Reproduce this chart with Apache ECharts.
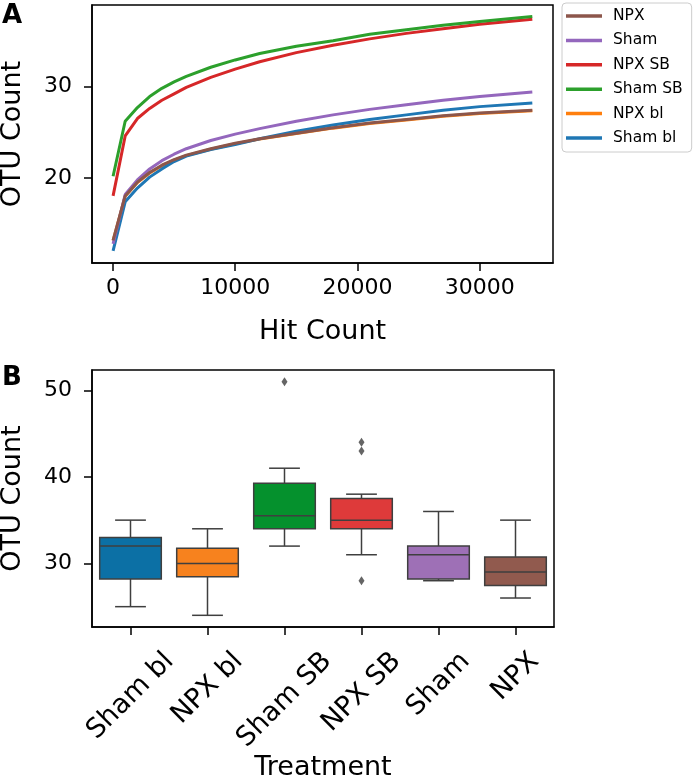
<!DOCTYPE html>
<html>
<head>
<meta charset="utf-8">
<script src="https://cdn.jsdelivr.net/npm/echarts@6/dist/echarts.min.js"></script>
<style>
html,body{margin:0;padding:0;background:#fff;}
#chart{width:693px;height:780px;}
</style>
</head>
<body>
<div id="chart"></div>
<script>
// ---------- Panel A data (rarefaction curves) ----------
const hitCount = [10, 1000, 2000, 3000, 4000, 5000, 6000, 8000, 10000, 12000, 15000, 18000, 21000, 24000, 27000, 30000, 34300];
const otuNPX    = [13.2, 18.05, 19.55, 20.6, 21.4, 22.0, 22.5, 23.2, 23.8, 24.3, 24.9, 25.5, 26.0, 26.4, 26.8, 27.1, 27.4];
const otuSham   = [12.8, 18.2, 19.8, 21.0, 21.9, 22.6, 23.2, 24.1, 24.8, 25.4, 26.2, 26.9, 27.5, 28.0, 28.5, 28.9, 29.4];
const otuNPXSB  = [18.05, 24.6, 26.5, 27.6, 28.5, 29.2, 29.9, 31.0, 31.9, 32.7, 33.7, 34.5, 35.2, 35.8, 36.3, 36.8, 37.35];
const otuShamSB = [20.2, 26.2, 27.7, 28.9, 29.8, 30.5, 31.1, 32.1, 32.9, 33.6, 34.4, 35.0, 35.7, 36.2, 36.7, 37.1, 37.65];
const otuNPXbl  = [13.15, 18.0, 19.5, 20.55, 21.35, 21.95, 22.45, 23.15, 23.75, 24.25, 24.85, 25.45, 25.95, 26.35, 26.75, 27.05, 27.35];
const otuShambl = [12.05, 17.4, 18.9, 20.1, 21.0, 21.8, 22.4, 23.1, 23.65, 24.3, 25.1, 25.8, 26.4, 26.9, 27.4, 27.8, 28.2];
const legendOrder = ['NPX', 'Sham', 'NPX SB', 'Sham SB', 'NPX bl', 'Sham bl'];
const xTicksA = [0, 10000, 20000, 30000];
const yTicksA = [20, 30];

// ---------- Panel B data (box plots) ----------
const categories = ['Sham bl', 'NPX bl', 'Sham SB', 'NPX SB', 'Sham', 'NPX'];
const boxMin = [25, 24, 32, 31, 28, 26];
const boxQ1  = [28.2, 28.45, 34, 34, 28.2, 27.45];
const boxMed = [32, 30, 35.5, 35, 31, 29];
const boxQ3  = [33, 31.75, 39.25, 37.5, 32, 30.75];
const boxMax = [35, 34, 41, 38, 36, 35];
const outlierCat = ['Sham SB', 'NPX SB', 'NPX SB', 'NPX SB'];
const outlierVal = [51, 44, 43, 28];
const yTicksB = [30, 40, 50];

// ---------- styles ----------
const lineColors = {'NPX':'#8c564b','Sham':'#9467bd','NPX SB':'#d62728','Sham SB':'#2ca02c','NPX bl':'#ff7f0e','Sham bl':'#1f77b4'};
const boxColors = ['#0c70a5', '#f7821e', '#05912d', '#de3a3a', '#9e70b6', '#915a4e'];
const edge = '#3f3f3f';
const FONT = '"DejaVu Sans", sans-serif';
const CAT_FS = 27;

// measure category label widths to emulate matplotlib's centered rotated tick labels
const cnv = document.createElement('canvas').getContext('2d');
cnv.font = CAT_FS + 'px "DejaVu Sans"';
const widths = categories.map(c => cnv.measureText(c).width);
const wmin = Math.min.apply(null, widths);
const catData = categories.map((c, i) => {
  const e = widths[i] - wmin;
  return {value: c, textStyle: {align: 'center', verticalAlign: 'top', lineHeight: CAT_FS,
          padding: [e / 4, CAT_FS + e / 2, 0, 0],
          fontSize: CAT_FS, color: '#000', fontFamily: FONT}};
});

const seriesA = [
  ['NPX bl', otuNPXbl], ['Sham bl', otuShambl], ['Sham', otuSham],
  ['NPX', otuNPX], ['NPX SB', otuNPXSB], ['Sham SB', otuShamSB]
].map(([name, vals]) => ({
  name: name, type: 'line', xAxisIndex: 0, yAxisIndex: 0,
  data: hitCount.map((x, i) => [x, vals[i]]),
  showSymbol: false, symbol: 'none', smooth: false,
  lineStyle: {width: 3, color: lineColors[name]},
  itemStyle: {color: lineColors[name]},
  animation: false
}));

const boxData = categories.map((c, i) => [i, boxMin[i], boxQ1[i], boxMed[i], boxQ3[i], boxMax[i]]);

const axisTickStyle = {show: true, inside: false, length: 8, lineStyle: {color: '#000', width: 1.5}};
const axisLineStyle = {show: true, onZero: false, lineStyle: {color: '#000', width: 1.5}};

const option = {
  backgroundColor: '#fff',
  animation: false,
  textStyle: {fontFamily: FONT},
  grid: [
    {left: 92, top: 5, width: 461, height: 258, show: true, borderColor: '#000', borderWidth: 1.5, backgroundColor: 'transparent', outerBoundsMode: 'none', containLabel: false},
    {left: 92, top: 370, width: 462, height: 257, show: true, borderColor: '#000', borderWidth: 1.5, backgroundColor: 'transparent', outerBoundsMode: 'none', containLabel: false}
  ],
  legend: {
    data: legendOrder, orient: 'vertical', left: 562, top: 3,
    icon: 'rect', itemWidth: 36, itemHeight: 3.5, itemGap: 8.4,
    padding: [5, 9, 6, 4],
    backgroundColor: 'rgba(255,255,255,0.8)', borderColor: '#cccccc', borderWidth: 1, borderRadius: 4,
    textStyle: {fontSize: 15.5, color: '#000', fontFamily: FONT, padding: [0, 0, 0, 6]},
    selectedMode: false
  },
  xAxis: [
    {type: 'value', gridIndex: 0, min: -1714, max: 35992,
     axisLine: axisLineStyle, axisTick: Object.assign({customValues: xTicksA}, axisTickStyle),
     axisLabel: {customValues: xTicksA, fontSize: 22, color: '#000', margin: 14, fontFamily: FONT,
                 formatter: v => String(Math.round(v))},
     splitLine: {show: false},
     name: 'Hit Count', nameLocation: 'middle', nameGap: 55, nameMoveOverlap: false,
     nameTextStyle: {fontSize: 27, color: '#000', fontFamily: FONT}},
    {type: 'category', gridIndex: 1, data: catData, boundaryGap: true,
     axisLine: axisLineStyle, axisTick: Object.assign({alignWithLabel: true, interval: 0}, axisTickStyle),
     axisLabel: {interval: 0, rotate: 45, fontSize: CAT_FS, color: '#000', margin: 30.5, fontFamily: FONT, hideOverlap: false},
     splitLine: {show: false},
     name: 'Treatment', nameLocation: 'middle', nameGap: 127, nameMoveOverlap: false,
     nameTextStyle: {fontSize: 27, color: '#000', fontFamily: FONT}}
  ],
  yAxis: [
    {type: 'value', gridIndex: 0, min: 10.72, max: 38.9,
     axisLine: axisLineStyle, axisTick: Object.assign({customValues: yTicksA}, axisTickStyle),
     axisLabel: {customValues: yTicksA, fontSize: 22, color: '#000', margin: 20, fontFamily: FONT},
     splitLine: {show: false},
     name: 'OTU Count', nameLocation: 'middle', nameGap: 66, nameRotate: 90, nameMoveOverlap: false,
     nameTextStyle: {fontSize: 27, color: '#000', fontFamily: FONT}},
    {type: 'value', gridIndex: 1, min: 22.65, max: 52.35,
     axisLine: axisLineStyle, axisTick: Object.assign({customValues: yTicksB}, axisTickStyle),
     axisLabel: {customValues: yTicksB, fontSize: 22, color: '#000', margin: 20, fontFamily: FONT},
     splitLine: {show: false},
     name: 'OTU Count', nameLocation: 'middle', nameGap: 66, nameRotate: 90, nameMoveOverlap: false,
     nameTextStyle: {fontSize: 27, color: '#000', fontFamily: FONT}}
  ],
  graphic: [
    {type: 'text', left: 2, top: 3, style: {text: 'A', font: 'bold 26px "DejaVu Sans"', fill: '#000'}},
    {type: 'text', left: 2, top: 365, style: {text: 'B', font: 'bold 26px "DejaVu Sans"', fill: '#000'}}
  ],
  series: seriesA.concat([
    {
      type: 'custom', name: 'box', xAxisIndex: 1, yAxisIndex: 1,
      data: boxData,
      encode: {x: 0, y: [1, 2, 3, 4, 5]},
      renderItem: function (params, api) {
        const i = api.value(0);
        const pMin = api.coord([i, api.value(1)]);
        const pQ1 = api.coord([i, api.value(2)]);
        const pMed = api.coord([i, api.value(3)]);
        const pQ3 = api.coord([i, api.value(4)]);
        const pMax = api.coord([i, api.value(5)]);
        const band = api.size([1, 0])[0];
        const bw = band * 0.8;
        const cw = bw * 0.5;
        const cx = pMed[0];
        const ls = {stroke: edge, lineWidth: 1.5, fill: null};
        return {
          type: 'group',
          children: [
            {type: 'line', shape: {x1: cx, y1: pQ3[1], x2: cx, y2: pMax[1]}, style: ls},
            {type: 'line', shape: {x1: cx, y1: pQ1[1], x2: cx, y2: pMin[1]}, style: ls},
            {type: 'line', shape: {x1: cx - cw / 2, y1: pMax[1], x2: cx + cw / 2, y2: pMax[1]}, style: ls},
            {type: 'line', shape: {x1: cx - cw / 2, y1: pMin[1], x2: cx + cw / 2, y2: pMin[1]}, style: ls},
            {type: 'rect', shape: {x: cx - bw / 2, y: pQ3[1], width: bw, height: pQ1[1] - pQ3[1]},
             style: {fill: boxColors[i], stroke: edge, lineWidth: 1.5}},
            {type: 'line', shape: {x1: cx - bw / 2, y1: pMed[1], x2: cx + bw / 2, y2: pMed[1]}, style: ls}
          ]
        };
      },
      animation: false
    },
    {
      type: 'scatter', name: 'outliers', xAxisIndex: 1, yAxisIndex: 1,
      data: outlierCat.map((c, i) => [c, outlierVal[i]]),
      symbol: 'diamond', symbolSize: [6, 9],
      itemStyle: {color: edge},
      animation: false
    }
  ])
};

const chart = echarts.init(document.getElementById('chart'), null, {renderer: 'canvas'});
chart.setOption(option);
</script>
</body>
</html>
